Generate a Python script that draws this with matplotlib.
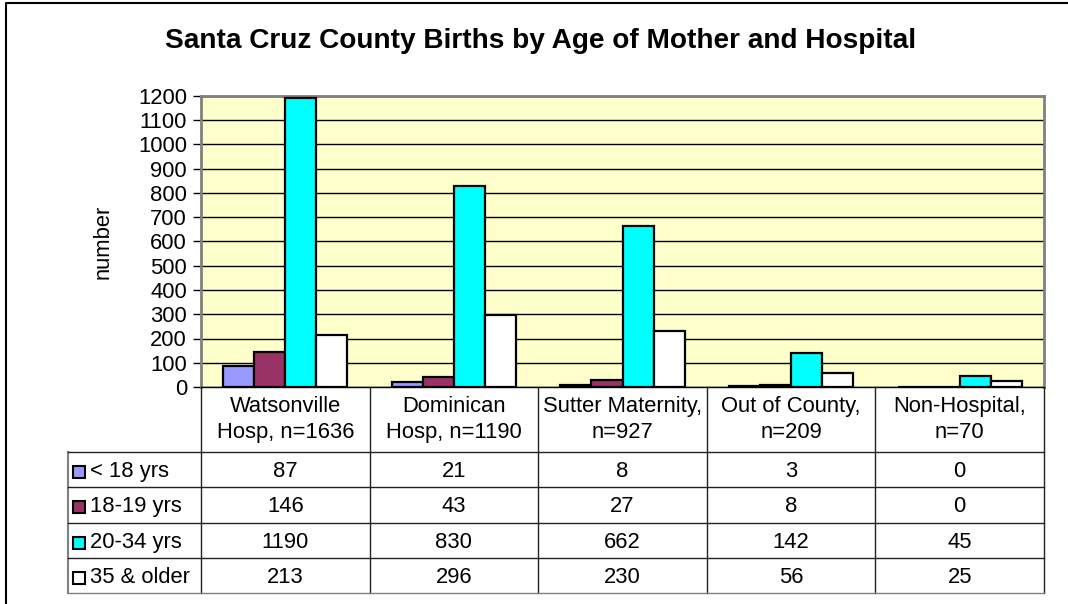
import numpy as np
import matplotlib
matplotlib.use("Agg")
import matplotlib.pyplot as plt
from matplotlib.patches import Rectangle

plt.rcParams['font.family'] = ['Liberation Sans', 'DejaVu Sans']

hospitals = ["Watsonville\nHosp, n=1636", "Dominican\nHosp, n=1190", "Sutter Maternity,\nn=927",
             "Out of County,\nn=209", "Non-Hospital,\nn=70"]
age_groups = ["< 18 yrs", "18-19 yrs", "20-34 yrs", "35 & older"]
under_18 = [87, 21, 8, 3, 0]
age_18_19 = [146, 43, 27, 8, 0]
age_20_34 = [1190, 830, 662, 142, 45]
age_35_up = [213, 296, 230, 56, 25]
series = [under_18, age_18_19, age_20_34, age_35_up]
colors = ["#9999FF", "#993366", "#00FFFF", "#FFFFFF"]
yticks = list(range(0, 1201, 100))

W, H = 1068, 604
FS = 15.8
fig = plt.figure(figsize=(W / 100, H / 100), dpi=100)

# plot area in pixels
px_l, px_r, px_t, px_b = 201, 1044, 96, 387
ax = fig.add_axes([px_l / W, 1 - px_b / H, (px_r - px_l) / W, (px_b - px_t) / H])
ax.set_facecolor("#FFFFCC")

n = len(hospitals)
x = np.arange(n)
bw = 0.184
for i, (vals, c) in enumerate(zip(series, colors)):
    ax.bar(x + (i - 1.5) * bw, vals, width=bw, color=c, edgecolor="black",
           linewidth=1.6, zorder=3)

ax.set_xlim(-0.5, n - 0.5)
ax.set_ylim(0, 1200)
ax.set_yticks(yticks)
ax.set_yticklabels([str(t) for t in yticks], fontsize=FS)
ax.set_xticks([])
ax.grid(axis="y", color="black", linewidth=1, zorder=1)
ax.tick_params(axis="y", length=6, width=1, pad=4)
for s in ["left", "top", "right"]:
    ax.spines[s].set_color("#808080")
    ax.spines[s].set_linewidth(2)
ax.spines["bottom"].set_color("black")
ax.spines["bottom"].set_linewidth(1)
ax.set_ylabel("number", fontsize=FS, labelpad=18)

# overlay in pixel coordinates for the title, frame and data table
ov = fig.add_axes([0, 0, 1, 1], zorder=5)
ov.set_xlim(0, W)
ov.set_ylim(H, 0)
ov.axis("off")

ov.plot([6, 6, W], [H, 3, 3], color="black", linewidth=1.5)
ov.text(541, 48, "Santa Cruz County Births by Age of Mother and Hospital",
        fontsize=20.2, fontweight="bold", ha="center", va="baseline")

col_w = (px_r - px_l) / n
cols = [px_l + k * col_w for k in range(n + 1)]
head_b = 452
row_h = 35.3
rows = [head_b + k * row_h for k in range(len(age_groups) + 1)]
tab_l = 68
lc = "#222222"

ov.plot([px_l, px_l], [px_b, rows[-1]], color=lc, lw=1)
for cx in cols[1:]:
    ov.plot([cx, cx], [px_b, rows[-1]], color=lc, lw=1)
ov.plot([tab_l, tab_l], [head_b, rows[-1]], color="#808080", lw=1.5)
for ry in rows:
    ov.plot([tab_l, px_r], [ry, ry], color=lc if ry != rows[-1] else "#808080", lw=1)

for k, lab in enumerate(hospitals):
    cx = (cols[k] + cols[k + 1]) / 2
    for j, line in enumerate(lab.split("\n")):
        ov.text(cx, 412 + j * 26, line, fontsize=FS, ha="center", va="baseline")

for r, (name, vals, c) in enumerate(zip(age_groups, series, colors)):
    base = rows[r] + 25
    ov.add_patch(Rectangle((72.5, rows[r] + 14), 12, 12, facecolor=c,
                           edgecolor="black", lw=1.5))
    ov.text(90, base, name, fontsize=FS, ha="left", va="baseline")
    for k, v in enumerate(vals):
        cx = (cols[k] + cols[k + 1]) / 2
        ov.text(cx, base, str(v), fontsize=FS, ha="center", va="baseline")

fig.savefig("out.png", dpi=100)
